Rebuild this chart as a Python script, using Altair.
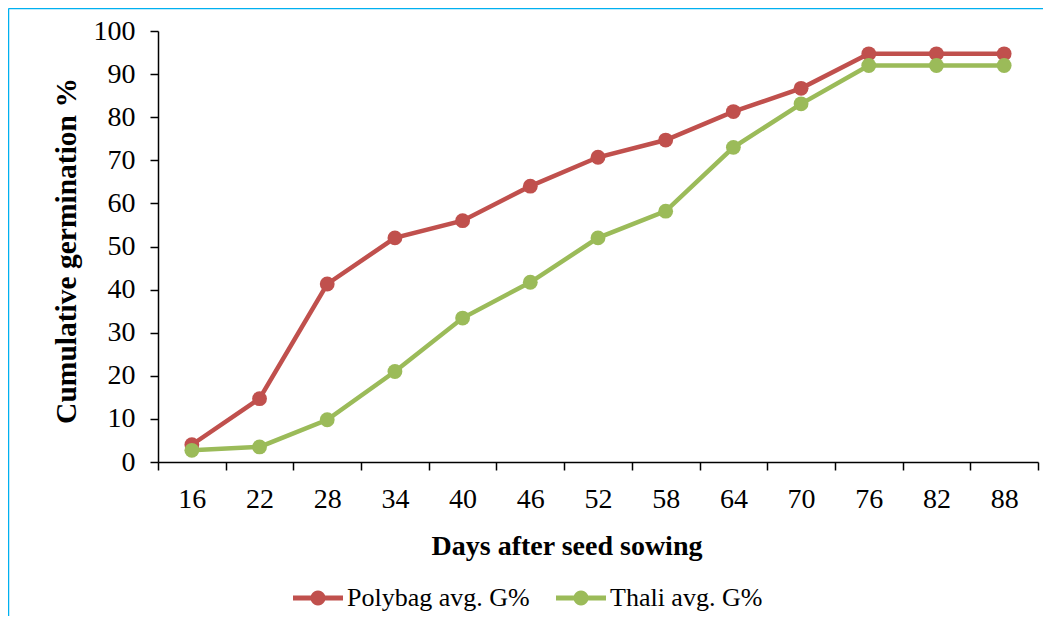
import altair as alt
import pandas as pd
import math

days = [16, 22, 28, 34, 40, 46, 52, 58, 64, 70, 76, 82, 88]
polybag = [4.0, 14.7, 41.3, 52.0, 56.0, 64.0, 70.7, 74.7, 81.3, 86.7, 94.7, 94.7, 94.7]
thali = [2.7, 3.5, 9.8, 21.0, 33.4, 41.7, 52.0, 58.2, 73.0, 83.1, 92.0, 92.0, 92.0]
series = ["Polybag avg. G%", "Thali avg. G%"]
colors = ["#C0504D", "#9BBB59"]
y_ticks = list(range(0, 101, 10))
x_bounds = [13 + 6 * i for i in range(14)]

FONT = "Liberation Serif"

rows = []
for s, vals in zip(series, [polybag, thali]):
    for i, (d, v) in enumerate(zip(days, vals)):
        rows.append({"day": d, "value": v, "series": s, "order": i})
df = pd.DataFrame(rows)

x_enc = alt.X(
    "day:Q",
    scale=alt.Scale(domain=[13, 91], nice=False, zero=False),
    axis=alt.Axis(
        values=x_bounds,
        labelExpr="datum.value < 90 ? datum.value + 3 : ''",
        labelOffset=33.85,
        labelFlush=False,
        labelOverlap=False,
        grid=False,
        tickSize=8,
        tickColor="black",
        tickWidth=1.5,
        domainColor="black",
        domainWidth=1.5,
        labelFont=FONT,
        labelFontSize=28,
        labelColor="black",
        labelBaseline="alphabetic",
        labelPadding=37,
        title="Days after seed sowing",
        titleFont=FONT,
        titleFontSize=28,
        titleFontWeight="bold",
        titleColor="black",
        titleX=408.5,
        titleY=92,
        titleAlign="center",
        titleBaseline="alphabetic",
    ),
)

y_enc = alt.Y(
    "value:Q",
    scale=alt.Scale(domain=[0, 100], nice=False),
    axis=alt.Axis(
        values=y_ticks,
        grid=False,
        tickSize=8,
        tickColor="black",
        tickWidth=1.5,
        domainColor="black",
        domainWidth=1.5,
        labelFont=FONT,
        labelFontSize=28,
        labelColor="black",
        labelPadding=15,
        title="Cumulative germination %",
        titleFont=FONT,
        titleFontSize=29.5,
        titleFontWeight="bold",
        titleColor="black",
        titleX=-92,
        titleY=219.5,
        titleAngle=-90,
        titleAlign="center",
        titleBaseline="middle",
    ),
)

color_scale = alt.Scale(domain=series, range=colors)

# legend glyph: thick horizontal bar with a round marker in the middle
circle_pts = " ".join(
    "L{:.3f},{:.3f}".format(0.3 * math.cos(2 * math.pi * k / 24), 0.3 * math.sin(2 * math.pi * k / 24))
    for k in range(1, 24)
)
legend_path = "M-1,-0.1 L1,-0.1 L1,0.1 L-1,0.1 Z M0.3,0 " + circle_pts + " Z"

legend = alt.Legend(
    orient="none",
    legendX=135,
    legendY=542,
    direction="horizontal",
    title=None,
    symbolType=legend_path,
    symbolSize=2500,
    symbolStrokeWidth=0,
    symbolOpacity=1,
    labelFont=FONT,
    labelFontSize=26,
    labelColor="black",
    labelOffset=4,
    labelLimit=500,
    columnPadding=26,
    padding=0,
    labelBaseline="middle",
)

lines = alt.Chart(df).mark_line(strokeWidth=4.5).encode(
    x=x_enc,
    y=y_enc,
    color=alt.Color("series:N", scale=color_scale, legend=legend),
    order="order:Q",
)

points = alt.Chart(df).mark_point(filled=True, size=220, opacity=1).encode(
    x=x_enc,
    y=y_enc,
    color=alt.Color("series:N", scale=color_scale, legend=legend),
)

border_df = pd.DataFrame({"d": [0]})
border_top = alt.Chart(border_df).mark_rule(color="#00B0F0", strokeWidth=1.5).encode(
    x=alt.value(-149.5), x2=alt.value(1000), y=alt.value(-22.5)
)
border_left = alt.Chart(border_df).mark_rule(color="#00B0F0", strokeWidth=1.5).encode(
    x=alt.value(-149.5), y=alt.value(-22.5), y2=alt.value(700)
)

chart = alt.layer(border_top, border_left, lines, points).properties(
    width=880,
    height=431,
    autosize=alt.AutoSizeParams(type="none"),
    padding={"left": 150, "top": 23, "right": 5, "bottom": 154},
    background="white",
).configure_view(stroke=None)

chart.save("out.html", embed_options={"renderer": "svg", "actions": False})
